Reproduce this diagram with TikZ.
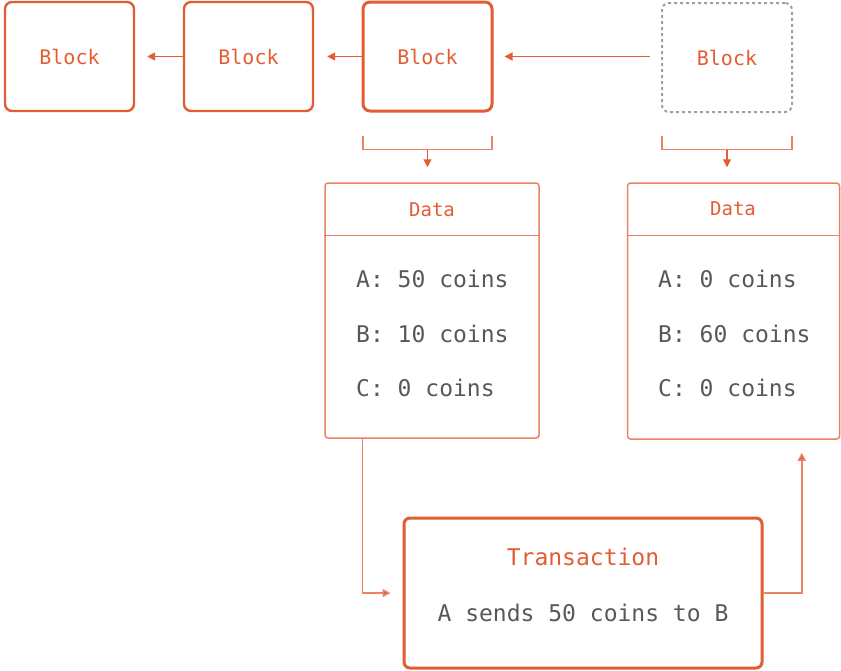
\documentclass[tikz,border=0pt]{standalone}
\usepackage{fontspec}
\newfontfamily\monofam{DejaVu Sans Mono}
\usetikzlibrary{arrows.meta}
\definecolor{brand}{RGB}{226,92,52}
\definecolor{brandlight}{RGB}{236,130,100}
\definecolor{txtgray}{RGB}{88,88,88}
\definecolor{dashgray}{RGB}{160,160,160}
\tikzset{
  blockbox/.style={draw=brand, line width=2.4pt, rounded corners=7pt, minimum width=129pt, minimum height=109pt, inner sep=0pt,
    text=brand, font=\monofam\fontsize{20}{23}\selectfont},
  blockmain/.style={blockbox, line width=3pt},
  blockghost/.style={blockbox, draw=dashgray, line width=2pt, dash pattern=on 3pt off 3pt, minimum width=130pt},
  databox/.style={draw=brandlight, line width=1.5pt, rounded corners=3pt, inner sep=0pt},
  datahead/.style={text=brand, font=\monofam\fontsize{19}{22}\selectfont, inner sep=0pt},
  dataline/.style={text=txtgray, font=\monofam\fontsize{23}{26}\selectfont, inner sep=0pt, anchor=west},
  txbox/.style={draw=brand, line width=3pt, rounded corners=6pt, minimum width=358pt, minimum height=150pt, inner sep=0pt},
  txtitle/.style={text=brand, font=\monofam\fontsize{23}{26}\selectfont, inner sep=0pt},
  txbody/.style={text=txtgray, font=\monofam\fontsize{23}{26}\selectfont, inner sep=0pt},
  arr/.style={draw=brand, line width=1.5pt, -{Triangle[length=8pt,width=8pt]}},
  thinarr/.style={draw=brandlight, line width=1.5pt, -{Triangle[length=8pt,width=8pt,fill=brand]}},
  bracket/.style={draw=brandlight, line width=1.4pt}
}
\begin{document}
\begin{tikzpicture}[x=1pt,y=-1pt]
\useasboundingbox (0,0) rectangle (841,670);
% blocks
\node[blockbox] (b1) at (69.5,56.5) {Block};
\node[blockbox] (b2) at (248.5,56.5) {Block};
\node[blockmain] (b3) at (427.5,56.5) {Block};
\node[blockghost] (b4) at (727,57.5) {Block};
% chain arrows
\draw[arr, shorten >=12pt] (b2.west) -- (b1.east);
\draw[arr, shorten >=13pt] (b3.west) -- (b2.east);
\draw[arr, shorten <=11pt, shorten >=11pt] (b4.west |- b3.west) -- (b3.east);
% data boxes
\node[databox, minimum width=214pt, minimum height=255pt] (d1) at (432,310.5) {};
\node[databox, minimum width=212pt, minimum height=256pt] (d2) at (733.5,311) {};
\draw[bracket] ([yshift=-53pt]d1.north west) -- ([yshift=-53pt]d1.north east);
\draw[bracket] ([yshift=-53pt]d2.north west) -- ([yshift=-53pt]d2.north east);
\node[datahead] (h1) at (432,209.5) {Data};
\node[datahead] (h2) at (733,208.5) {Data};
\node[dataline] (a1) at (356,279) {A: 50 coins};
\node[dataline] (bb1) at (356,334) {B: 10 coins};
\node[dataline] (c1) at (356,388) {C: 0 coins};
\node[dataline] (a2) at (658,279) {A: 0 coins};
\node[dataline] (bb2) at (658,334) {B: 60 coins};
\node[dataline] (c2) at (658,388) {C: 0 coins};
% brackets
\coordinate (k3) at (427.5,149.5);
\coordinate (k4) at (727,149.5);
\draw[bracket] (363,136) |- (k3) -| (492,136);
\draw[bracket] (662,136) |- (k4) -| (792,136);
\draw[arr, line width=1.4pt, shorten >=15pt] (k3) -- (k3 |- d1.north);
\draw[arr, line width=1.4pt, shorten >=15pt] (k4) -- (k4 |- d2.north);
% transaction
\node[txbox] (tx) at (583,593) {};
\node[txtitle] (tt) at (583,557) {Transaction};
\node[txbody] (tb) at (583,613) {A sends 50 coins to B};
\draw[thinarr, shorten >=12pt] ([xshift=38pt]d1.south west) |- (tx.west);
\draw[thinarr, shorten >=13pt] (tx.east) -| ([xshift=175pt]d2.south west);
\end{tikzpicture}
\end{document}
